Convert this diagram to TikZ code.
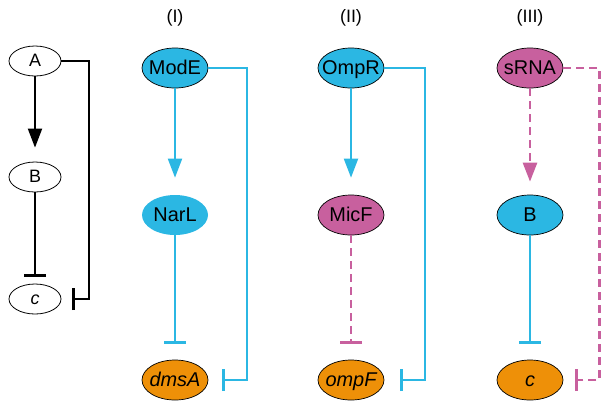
\documentclass[tikz,border=0pt]{standalone}
\usepackage{fontspec}
\setmainfont{Liberation Sans}
\usetikzlibrary{arrows.meta}
\usetikzlibrary{shapes.geometric}

\definecolor{regblue}{RGB}{43,183,227}
\definecolor{regpink}{RGB}{200,96,158}
\definecolor{regorange}{RGB}{238,144,8}

% text that does not widen its ellipse
\newcommand{\gname}[1]{\makebox[0pt][c]{#1}}

\tikzset{
  plain/.style={ellipse,draw,line width=0.8bp,minimum width=52bp,minimum height=30bp,
    inner sep=0pt,text height=12bp,text depth=1bp,font=\fontsize{18}{18}\selectfont},
  prot/.style={ellipse,draw=black,line width=0.7bp,minimum width=66bp,minimum height=40bp,
    inner sep=0pt,text height=14bp,text depth=2bp,font=\fontsize{20}{20}\selectfont},
  head/.style={font=\fontsize{18}{18}\selectfont},
  act/.style={line width=2bp,-{Triangle[width=14bp,length=19bp]}},
  inh/.style={line width=2bp,-{Bar[width=22bp,line width=3bp]}},
  dsh/.style={line width=2.6bp,dash pattern=on 8bp off 5bp},
}

\begin{document}
\begin{tikzpicture}[x=1bp,y=-1bp]
    \useasboundingbox (0,0) rectangle (602,401);

    % Generic motif
    \node [plain] (a) at (35,61) {A};
    \node [plain] (b) at (35,177) {B};
    \node [plain] (c) at (35,299) {\itshape c};
    \draw [act,shorten >=14bp] (a) -- (b);
    \draw [inh,shorten >=7bp] (b) -- (c);
    \draw [inh,shorten >=11bp] (a.east) -- +(28,0) |- (c.east);

    % (I)
    \node [head] at (175,18) {(I)};
    \node [prot,fill=regblue] (mode) at (175,68) {\gname{ModE}};
    \node [prot,fill=regblue,draw=none] (narl) at (175,215) {\gname{NarL}};
    \node [prot,fill=regorange] (dmsa) at (175,380) {\gname{\itshape dmsA}};
    \draw [act,regblue,shorten >=17bp] (mode) -- (narl);
    \draw [inh,regblue,shorten >=16bp] (narl) -- (dmsa);
    \draw [inh,regblue,shorten >=14bp] (mode.east) -- +(39,0) |- (dmsa.east);

    % (II)
    \node [head] at (351,18) {(II)};
    \node [prot,fill=regblue] (ompr) at (351,68) {\gname{OmpR}};
    \node [prot,fill=regpink] (micf) at (351,215) {\gname{MicF}};
    \node [prot,fill=regorange] (ompf) at (351,380) {\gname{\itshape ompF}};
    \draw [act,regblue,shorten >=17bp] (ompr) -- (micf);
    \draw [inh,dsh,regpink,shorten >=16bp] (micf) -- (ompf);
    \draw [inh,regblue,shorten >=16bp] (ompr.east) -- +(41,0) |- (ompf.east);

    % (III)
    \node [head] at (530,18) {(III)};
    \node [prot,fill=regpink] (srna) at (530,68) {\gname{sRNA}};
    \node [prot,fill=regblue] (b3) at (530,215) {\gname{B}};
    \node [prot,fill=regorange] (c3) at (530,380) {\gname{\itshape c}};
    \draw [act,dsh,regpink,shorten >=13bp] (srna) -- (b3);
    \draw [inh,regblue,shorten >=16bp] (b3) -- (c3);
    \draw [inh,dsh,regpink,shorten >=12bp] (srna.east) -- +(36,0) |- (c3.east);
\end{tikzpicture}
\end{document}
